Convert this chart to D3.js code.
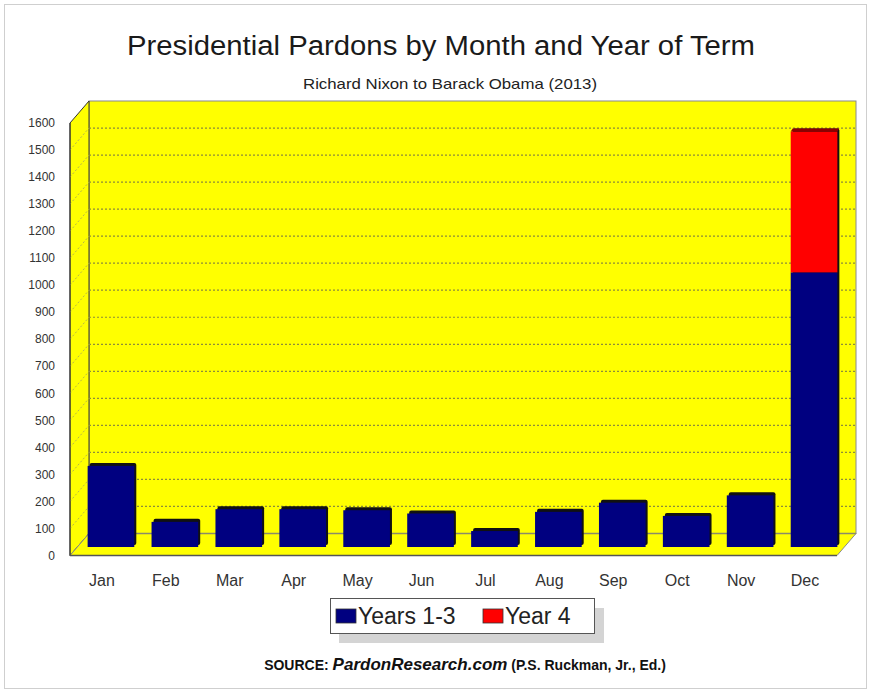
<!DOCTYPE html>
<html>
<head>
<meta charset="utf-8">
<script src="https://cdn.jsdelivr.net/npm/d3@7"></script>
<style>
  body { margin: 0; background: #fff; }
  svg { display: block; font-family: Arial, "Liberation Sans", sans-serif; }
</style>
</head>
<body>
<svg id="chart" width="871" height="692"></svg>
<script>
// data
var months = ["Jan", "Feb", "Mar", "Apr", "May", "Jun", "Jul", "Aug", "Sep", "Oct", "Nov", "Dec"];
var years13 = [300, 93, 140, 140, 136, 124, 59, 130, 164, 115, 191, 1016];
var year4 = [0, 0, 0, 0, 0, 0, 0, 0, 0, 0, 0, 521];
var yTicks = [0, 100, 200, 300, 400, 500, 600, 700, 800, 900, 1000, 1100, 1200, 1300, 1400, 1500, 1600];
var legendLabels = ["Years 1-3", "Year 4"];
var colors = ["#000080", "#ff0000"];

function draw() {
    var svg = d3.select("#chart");

    // outer frame
    svg.append("rect")
        .attr("x", 4.5).attr("y", 4.5)
        .attr("width", 862).attr("height", 684)
        .attr("fill", "none").attr("stroke", "#cfcfcf");

    // front plane of the plot
    var pLeft = 70, pRight = 837, pBottom = 555.5, pTop = 123;
    var depth = {x: 19, y: -22};        // back wall offset
    var barDepth = {x: 9, y: -8.5};     // bars sit inside the box

    var x = d3.scaleBand()
        .domain(months)
        .range([pLeft, pRight])
        .paddingInner(0.27)
        .paddingOuter(0.135);

    var y = d3.scaleLinear()
        .domain([0, 1600])
        .range([pBottom, pTop]);

    // titles
    svg.append("text")
        .attr("x", 441).attr("y", 55)
        .attr("text-anchor", "middle")
        .attr("font-size", "27px")
        .attr("textLength", 628)
        .attr("lengthAdjust", "spacingAndGlyphs")
        .attr("fill", "#1a1a1a")
        .text("Presidential Pardons by Month and Year of Term");

    svg.append("text")
        .attr("x", 450).attr("y", 89)
        .attr("text-anchor", "middle")
        .attr("font-size", "15px")
        .attr("textLength", 294)
        .attr("lengthAdjust", "spacingAndGlyphs")
        .attr("fill", "#222")
        .text("Richard Nixon to Barack Obama (2013)");

    // back wall
    svg.append("rect")
        .attr("x", pLeft + depth.x).attr("y", y(1600) + depth.y)
        .attr("width", pRight - pLeft).attr("height", y(0) - y(1600))
        .attr("fill", "#ffff00")
        .attr("stroke", "#8a8a8a");

    // left wall
    svg.append("path")
        .attr("d", "M" + pLeft + "," + y(1600) +
            "L" + (pLeft + depth.x) + "," + (y(1600) + depth.y) +
            "L" + (pLeft + depth.x) + "," + (y(0) + depth.y) +
            "L" + pLeft + "," + y(0) + "Z")
        .attr("fill", "#ffff00")
        .attr("stroke", "#333");

    // floor
    svg.append("path")
        .attr("d", "M" + pLeft + "," + y(0) +
            "L" + (pLeft + depth.x) + "," + (y(0) + depth.y) +
            "L" + (pRight + depth.x) + "," + (y(0) + depth.y) +
            "L" + pRight + "," + y(0) + "Z")
        .attr("fill", "#ffff00")
        .attr("stroke", "#8a8a8a");

    var inner = yTicks.filter(function(d) { return d > 0 && d < 1600; });

    // grid lines on back wall
    svg.selectAll("line.grid")
        .data(inner)
        .enter()
        .append("line")
        .attr("class", "grid")
        .attr("x1", pLeft + depth.x).attr("x2", pRight + depth.x)
        .attr("y1", function(d) { return y(d) + depth.y; })
        .attr("y2", function(d) { return y(d) + depth.y; })
        .attr("stroke", "#8c8c3a")
        .attr("stroke-width", 1.2)
        .attr("stroke-dasharray", "2,2");

    // grid lines on left wall
    svg.selectAll("line.sgrid")
        .data(inner)
        .enter()
        .append("line")
        .attr("class", "sgrid")
        .attr("x1", pLeft).attr("x2", pLeft + depth.x)
        .attr("y1", function(d) { return y(d); })
        .attr("y2", function(d) { return y(d) + depth.y; })
        .attr("stroke", "#b5b54a")
        .attr("stroke-dasharray", "2,2");

    // line where the back wall meets the floor
    svg.append("line")
        .attr("x1", pLeft + depth.x).attr("x2", pRight + depth.x)
        .attr("y1", y(0) + depth.y).attr("y2", y(0) + depth.y)
        .attr("stroke", "#8a8a6a").attr("stroke-width", 1.5);

    // front edges
    svg.append("line")
        .attr("x1", pLeft).attr("x2", pLeft)
        .attr("y1", y(1600)).attr("y2", y(0))
        .attr("stroke", "#333");
    svg.append("line")
        .attr("x1", pLeft).attr("x2", pRight)
        .attr("y1", y(0)).attr("y2", y(0))
        .attr("stroke", "#555").attr("stroke-width", 1.5);

    // y labels
    svg.selectAll("text.ylab")
        .data(yTicks)
        .enter()
        .append("text")
        .attr("class", "ylab")
        .attr("x", 55)
        .attr("y", function(d) { return y(d); })
        .attr("dy", "0.35em")
        .attr("text-anchor", "end")
        .attr("font-size", "12px")
        .attr("fill", "#333")
        .text(function(d) { return d; });

    // month labels
    svg.selectAll("text.xlab")
        .data(months)
        .enter()
        .append("text")
        .attr("class", "xlab")
        .attr("x", function(d) { return x(d) + x.bandwidth() / 2; })
        .attr("y", 586)
        .attr("text-anchor", "middle")
        .attr("font-size", "16px")
        .attr("fill", "#333")
        .text(function(d) { return d; });

    // bars
    var bars = svg.append("g")
        .attr("transform", "translate(" + barDepth.x + "," + barDepth.y + ")");

    var rows = months.map(function(m, i) {
        return {month: m, a: years13[i], b: year4[i]};
    });

    // dark side/top for the 3d look
    bars.selectAll("rect.shade")
        .data(rows)
        .enter()
        .append("rect")
        .attr("class", "shade")
        .attr("x", function(d) { return x(d.month) + 2; })
        .attr("y", function(d) { return y(d.a + d.b) - 3; })
        .attr("width", x.bandwidth())
        .attr("height", function(d) { return y(0) - y(d.a + d.b) + 1; })
        .attr("rx", 2)
        .attr("fill", "#111");

    bars.selectAll("rect.a")
        .data(rows)
        .enter()
        .append("rect")
        .attr("class", "a")
        .attr("x", function(d) { return x(d.month); })
        .attr("y", function(d) { return y(d.a); })
        .attr("width", x.bandwidth())
        .attr("height", function(d) { return y(0) - y(d.a); })
        .attr("fill", colors[0]);

    bars.selectAll("rect.b")
        .data(rows.filter(function(d) { return d.b > 0; }))
        .enter()
        .append("rect")
        .attr("class", "b")
        .attr("x", function(d) { return x(d.month); })
        .attr("y", function(d) { return y(d.a + d.b); })
        .attr("width", x.bandwidth())
        .attr("height", function(d) { return y(d.a) - y(d.a + d.b); })
        .attr("fill", colors[1]);

    // red top face on the stacked bar
    bars.selectAll("path.btop")
        .data(rows.filter(function(d) { return d.b > 0; }))
        .enter()
        .append("path")
        .attr("class", "btop")
        .attr("d", function(d) {
            var x0 = x(d.month), yy = y(d.a + d.b);
            return "M" + x0 + "," + yy + "L" + (x0 + 2) + "," + (yy - 3) +
                "L" + (x0 + x.bandwidth() + 2) + "," + (yy - 3) +
                "L" + (x0 + x.bandwidth()) + "," + yy + "Z";
        })
        .attr("fill", "#8b0000");

    // legend
    var lg = svg.append("g").attr("transform", "translate(330,598)");
    lg.append("rect")
        .attr("x", 9).attr("y", 10)
        .attr("width", 265).attr("height", 35)
        .attr("fill", "#d4d4d4");
    lg.append("rect")
        .attr("x", 0.5).attr("y", 0.5)
        .attr("width", 264).attr("height", 35)
        .attr("fill", "#fff")
        .attr("stroke", "#555");

    var item = lg.selectAll("g.item")
        .data(legendLabels)
        .enter()
        .append("g")
        .attr("class", "item")
        .attr("transform", function(d, i) { return "translate(" + (6 + i * 147) + ",0)"; });
    item.append("rect")
        .attr("x", 0).attr("y", 11)
        .attr("width", 20).attr("height", 14)
        .attr("fill", function(d, i) { return colors[i]; })
        .attr("stroke", "#333").attr("stroke-width", 0.8);
    item.append("text")
        .attr("x", 22).attr("y", 26)
        .attr("font-size", "23px")
        .attr("fill", "#222")
        .text(function(d) { return d; });

    // source line
    var src = svg.append("text")
        .attr("x", 465).attr("y", 670)
        .attr("text-anchor", "middle")
        .attr("font-weight", "bold")
        .attr("fill", "#111");
    src.append("tspan").attr("font-size", "14px").text("SOURCE: ");
    src.append("tspan").attr("font-size", "17px").attr("font-style", "italic").text("PardonResearch.com");
    src.append("tspan").attr("font-size", "14px").text(" (P.S. Ruckman, Jr., Ed.)");
}

draw();
</script>
</body>
</html>
